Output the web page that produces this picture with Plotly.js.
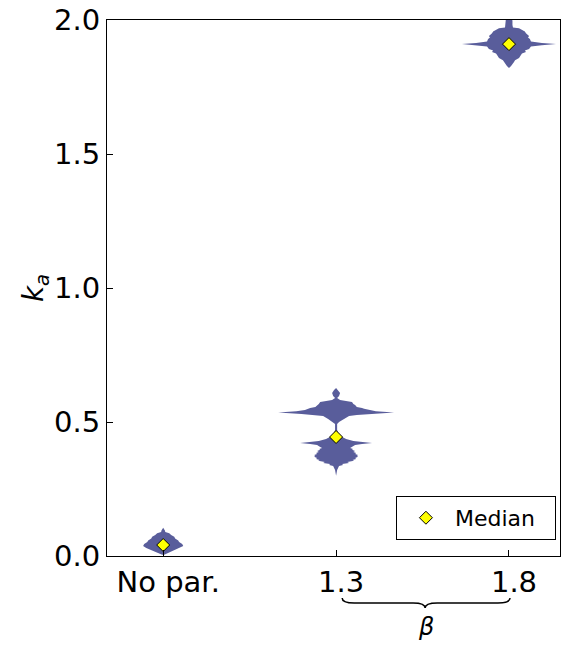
<!DOCTYPE html>
<html>
<head>
<meta charset="utf-8">
<script src="https://cdn.plot.ly/plotly-3.0.1.min.js"></script>
<style>html,body{margin:0;padding:0;background:#fff;}#chart{width:563px;height:645px;}</style>
</head>
<body>
<div id="chart"></div>
<script>
// Categories and their positions on the x axis
const categories = ["No par.", "1.3", "1.8"];
const positions = [0, 1, 2];

// Violin profiles: k_a levels and half-width (density) at each level
const noParLevels = [0.005, 0.012, 0.020, 0.030, 0.037, 0.045, 0.052, 0.058, 0.065, 0.072, 0.078, 0.085, 0.090, 0.095, 0.105];
const noParWidth  = [0.006, 0.029, 0.064, 0.098, 0.116, 0.110, 0.092, 0.087, 0.069, 0.064, 0.046, 0.035, 0.012, 0.010, 0.000];

const beta13Levels = [0.299, 0.321, 0.336, 0.340, 0.343, 0.347, 0.351, 0.355, 0.358, 0.362, 0.366, 0.370, 0.373, 0.377, 0.381, 0.384, 0.388, 0.392, 0.396, 0.399, 0.403, 0.407, 0.414, 0.418, 0.422, 0.426, 0.429, 0.437, 0.451, 0.470, 0.493, 0.500, 0.511, 0.522, 0.526, 0.530, 0.535, 0.540, 0.545, 0.549, 0.552, 0.556, 0.563, 0.567, 0.575, 0.582, 0.590, 0.597, 0.608, 0.619, 0.627];
const beta13Width  = [0.000, 0.006, 0.017, 0.040, 0.035, 0.075, 0.065, 0.104, 0.095, 0.116, 0.110, 0.127, 0.120, 0.127, 0.110, 0.116, 0.100, 0.110, 0.092, 0.098, 0.081, 0.092, 0.110, 0.150, 0.208, 0.140, 0.100, 0.058, 0.017, 0.006, 0.006, 0.017, 0.046, 0.075, 0.120, 0.200, 0.335, 0.230, 0.180, 0.162, 0.150, 0.120, 0.110, 0.100, 0.092, 0.023, 0.006, 0.017, 0.023, 0.012, 0.000];

const beta18Levels = [1.821, 1.828, 1.843, 1.850, 1.858, 1.865, 1.869, 1.875, 1.881, 1.886, 1.892, 1.901, 1.906, 1.910, 1.914, 1.920, 1.929, 1.935, 1.940, 1.946, 1.951, 1.957, 1.963, 1.966, 1.969, 1.972, 1.981, 1.996, 2.004];
const beta18Width  = [0.000, 0.012, 0.029, 0.035, 0.058, 0.064, 0.069, 0.075, 0.098, 0.092, 0.116, 0.127, 0.190, 0.272, 0.190, 0.127, 0.121, 0.110, 0.116, 0.104, 0.098, 0.092, 0.075, 0.069, 0.058, 0.023, 0.020, 0.020, 0.018];

const medians = [0.041, 0.444, 1.910];

const violinColor = "rgb(89,93,155)";

function violinTrace(center, levels, widths) {
  const xs = [], ys = [];
  for (let i = 0; i < levels.length; i++) { xs.push(center + widths[i]); ys.push(levels[i]); }
  for (let i = levels.length - 1; i >= 0; i--) { xs.push(center - widths[i]); ys.push(levels[i]); }
  return {
    type: "scatter", mode: "lines", x: xs, y: ys, fill: "toself",
    fillcolor: violinColor, line: {width: 0, color: violinColor},
    showlegend: false, hoverinfo: "skip"
  };
}

const traces = [
  violinTrace(positions[0], noParLevels, noParWidth),
  violinTrace(positions[1], beta13Levels, beta13Width),
  violinTrace(positions[2], beta18Levels, beta18Width),
  {
    type: "scatter", mode: "markers", x: positions, y: medians, name: "Median\u00a0\u00a0",
    marker: {symbol: "diamond", size: 10, color: "#ffff00", line: {color: "#000", width: 1}},
    cliponaxis: false
  }
];

const font = "DejaVu Sans, Verdana, sans-serif";

const layout = {
  width: 563, height: 645,
  margin: {l: 107, r: 3, t: 20, b: 89},
  paper_bgcolor: "#fff", plot_bgcolor: "#fff",
  font: {family: font, color: "#000", size: 29},
  showlegend: true,
  legend: {
    x: 0.991, xanchor: "right", y: 0.03, yanchor: "bottom",
    bordercolor: "#000", borderwidth: 1, bgcolor: "#fff",
    itemwidth: 48,
    font: {family: font, size: 22, color: "#000"}
  },
  xaxis: {
    range: [-0.325, 2.295], tickvals: positions, ticktext: categories,
    ticks: "inside", ticklen: 6, tickcolor: "#000",
    ticklabelshift: 5,
    showline: true, linecolor: "#000", linewidth: 1, mirror: true,
    showgrid: false, zeroline: false,
    tickfont: {family: font, size: 29}
  },
  yaxis: {
    range: [0, 2.0], tickvals: [0, 0.5, 1.0, 1.5, 2.0], ticktext: ["0.0", "0.5", "1.0", "1.5", "2.0"],
    ticks: "inside", ticklen: 6, tickcolor: "#000",
    showline: true, linecolor: "#000", linewidth: 1, mirror: true,
    showgrid: false, zeroline: false,
    tickfont: {family: font, size: 29},
    title: {text: "<i>k<sub>a</sub></i>", font: {family: font, size: 28}, standoff: 2}
  },
  shapes: [{
    type: "path", xref: "x", yref: "paper",
    path: "M 1.035,-0.0784 Q 1.035,-0.0877 1.105,-0.0877 L 1.445,-0.0877 Q 1.515,-0.0877 1.515,-0.097 Q 1.515,-0.0877 1.585,-0.0877 L 1.936,-0.0877 Q 2.006,-0.0877 2.006,-0.0784",
    line: {color: "#000", width: 1.5}
  }],
  annotations: [{
    xref: "x", yref: "paper", x: 1.52, y: -0.132, yanchor: "middle", xanchor: "center", text: "<i>β</i>",
    showarrow: false, font: {family: font, size: 24, color: "#000"}
  }]
};

Plotly.newPlot("chart", traces, layout, {displayModeBar: false, staticPlot: true});
</script>
</body>
</html>
